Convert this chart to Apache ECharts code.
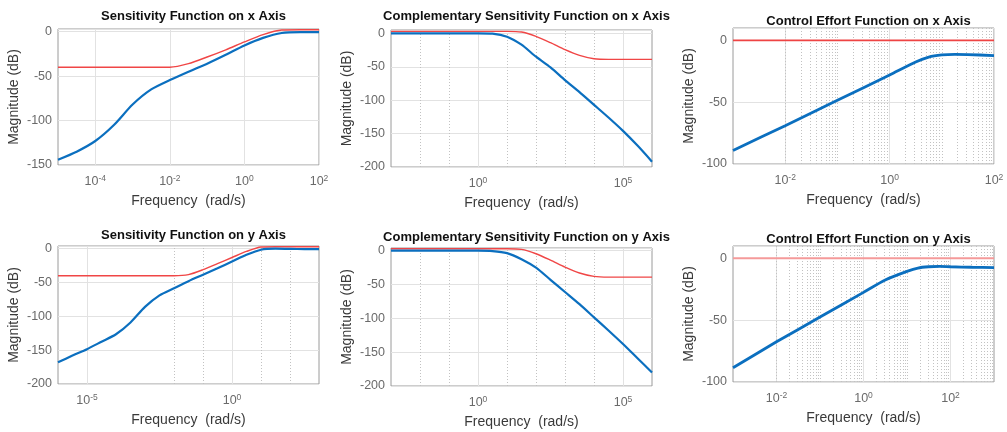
<!DOCTYPE html>
<html>
<head>
<meta charset="utf-8">
<title>Sensitivity functions</title>
<script src="https://cdn.jsdelivr.net/npm/echarts@6/dist/echarts.min.js"></script>
<style>
  html, body { margin: 0; padding: 0; background: #fff; }
  #chart { width: 1007px; height: 432px; }
</style>
</head>
<body>
<div id="chart"></div>
<script>
// --- data (rad/s, dB) ---
// sensitivity, x axis
const sxFreq = [1e-5, 3.16e-5, 1e-4, 3.16e-4, 1e-3, 3.16e-3, 1e-2, 3.16e-2, 1e-1, 3.16e-1, 1, 3.16, 10, 31.6, 100];
const sxBlue = [-144, -135, -123, -105, -82, -65, -54.5, -45, -36, -26, -15.5, -7, -1.5, -0.5, -0.5];
const sxRed  = [-40, -40, -40, -40, -40, -40, -40, -36, -28.5, -20.4, -11.5, -3.3, 1.8, 2.2, 2.2];

// complementary sensitivity, x axis
const txFreq = [1e-3, 1e-2, 1e-1, 1, 3.16, 10, 31.6, 100, 316, 1e3, 3.16e3, 1e4, 3.16e4, 1e5, 3.16e5, 1e6];
const txBlue = [0, 0, 0, 0, -0.5, -5, -17, -35, -51, -70, -88, -107, -126, -146, -168, -192];
const txRed  = [3, 3, 3, 3, 3, 3, 2, -4.5, -14, -24.5, -33, -38, -39, -39, -39, -39];

// control effort, x axis
const uxFreq = [1e-3, 1e-2, 1e-1, 1, 3.16, 5.62, 10, 17.8, 31.6, 100];
const uxBlue = [-89, -69, -48.5, -28, -17.5, -13.5, -11.8, -11.3, -11.5, -12.3];
const uxRed  = [0, 0, 0, 0, 0, 0, 0, 0, 0, 0];

// sensitivity, y axis
const syFreq = [1e-6, 3.16e-6, 1e-5, 3.16e-5, 1e-4, 3.16e-4, 1e-3, 3.16e-3, 1e-2, 3.16e-2, 1e-1, 3.16e-1, 1, 3.16, 10, 31.6, 100, 316, 1000];
const syBlue = [-168, -158, -148.5, -137.5, -126.5, -109, -86, -69, -58.5, -48, -38.5, -29, -19, -9, -1.5, 0, -0.3, -0.5, -0.5];
const syRed  = [-40, -40, -40, -40, -40, -40, -40, -40, -40, -38.3, -31, -22, -13, -4, 2.5, 3, 3, 3, 3];

// complementary sensitivity, y axis
const tyFreq = [1e-3, 1e-2, 1e-1, 1, 3.16, 10, 31.6, 100, 316, 1e3, 3.16e3, 1e4, 3.16e4, 1e5, 3.16e5, 1e6];
const tyBlue = [0, 0, 0, 0, -0.5, -3.5, -12.5, -25, -43, -61, -79, -98.5, -118, -138, -159, -180];
const tyRed  = [3, 3, 3, 3, 3, 3, 2, -4.5, -14, -24.3, -33, -38, -39, -39, -39, -39];

// control effort, y axis
const uyFreq = [1e-3, 1e-2, 1e-1, 1, 3.16, 10, 17.8, 31.6, 56.2, 100, 316, 1000];
const uyBlue = [-88.5, -67.5, -47.5, -27.5, -17.5, -10.5, -7.8, -6.8, -6.5, -6.8, -7.2, -7.5];
const uyRed  = [0, 0, 0, 0, 0, 0, 0, 0, 0, 0, 0, 0];

const titles = [
  'Sensitivity Function on x Axis',
  'Complementary Sensitivity Function on x Axis',
  'Control Effort Function on x Axis',
  'Sensitivity Function on y Axis',
  'Complementary Sensitivity Function on y Axis',
  'Control Effort Function on y Axis'
];

const FONT = '"Liberation Sans", Arial, Helvetica, sans-serif';
const TICK_COLOR = '#6a6a6a';
const GRID_COLOR = '#e2e2e2';
const MINOR_COLOR = '#c2c2c2';
const BLUE = '#0b6fbf';

const panels = [
  { freq: sxFreq, blue: sxBlue, red: sxRed, left: 58, top: 29, width: 261, height: 136,
    xLo: -5, xHi: 2, yMin: -150, yMax: 3, step: 2, minor: 'none', titleTop: 4.5,
    blueWidth: 2.2, redColor: '#f04646', redWidth: 1.4 },
  { freq: txFreq, blue: txBlue, red: txRed, left: 391, top: 30, width: 261, height: 137,
    xLo: -3, xHi: 6, yMin: -200, yMax: 5, step: 5, minor: 'decade', titleTop: 4.5,
    blueWidth: 2.2, redColor: '#f04646', redWidth: 1.4 },
  { freq: uxFreq, blue: uxBlue, red: uxRed, left: 733, top: 28, width: 261, height: 136,
    xLo: -3, xHi: 2, yMin: -100, yMax: 10, step: 2, minor: 'fine', titleTop: 10,
    blueWidth: 2.8, redColor: '#ee4444', redWidth: 1.6 },
  { freq: syFreq, blue: syBlue, red: syRed, left: 58, top: 246, width: 261, height: 138,
    xLo: -6, xHi: 3, yMin: -200, yMax: 4, step: 5, minor: 'decade', titleTop: 223.5,
    blueWidth: 2.2, redColor: '#f04646', redWidth: 1.4 },
  { freq: tyFreq, blue: tyBlue, red: tyRed, left: 391, top: 248, width: 261, height: 138,
    xLo: -3, xHi: 6, yMin: -200, yMax: 4, step: 5, minor: 'decade', titleTop: 225.5,
    blueWidth: 2.2, redColor: '#f04646', redWidth: 1.4 },
  { freq: uyFreq, blue: uyBlue, red: uyRed, left: 733, top: 246, width: 261, height: 136,
    xLo: -3, xHi: 3, yMin: -100, yMax: 10, step: 2, minor: 'fine', titleTop: 228,
    blueWidth: 2.8, redColor: '#f59a9a', redWidth: 2 }
];

function pairs(xs, ys) {
  return xs.map((x, i) => [x, ys[i]]);
}

// dotted MATLAB-style minor grid positions (decades that carry no label)
function minorLines(p) {
  const out = [];
  for (let e = p.xLo; e <= p.xHi; e++) {
    if (p.minor === 'decade' && e > p.xLo && e < p.xHi && e % p.step !== 0) {
      out.push(Math.pow(10, e));
    }
    if (p.minor === 'fine' && e < p.xHi) {
      for (let k = 1; k <= 9; k++) {
        if (k === 1 && (e === p.xLo || e % p.step === 0)) continue;
        out.push(k * Math.pow(10, e));
      }
    }
  }
  return out;
}

const option = { animation: false, title: [], grid: [], xAxis: [], yAxis: [], series: [] };

panels.forEach((p, i) => {
  option.title.push({
    text: titles[i],
    left: p.left + p.width / 2,
    top: p.titleTop,
    textAlign: 'center',
    textStyle: { fontFamily: FONT, fontSize: 13, fontWeight: 'bold', color: '#111' }
  });

  option.grid.push({
    left: p.left, top: p.top, width: p.width, height: p.height,
    show: true, borderColor: '#9a9a9a', borderWidth: 1, backgroundColor: '#fff'
  });

  // solid grid only on the labelled decades
  const majorColors = [];
  for (let e = p.xLo; e <= p.xHi; e++) {
    majorColors.push(e % p.step === 0 ? GRID_COLOR : 'rgba(0,0,0,0)');
  }

  option.xAxis.push({
    type: 'log', logBase: 10, gridIndex: i,
    min: Math.pow(10, p.xLo), max: Math.pow(10, p.xHi),
    name: 'Frequency  (rad/s)', nameLocation: 'middle', nameGap: 29,
    nameTextStyle: { fontFamily: FONT, fontSize: 14, color: '#3a3a3a' },
    axisLine: { show: false }, axisTick: { show: false },
    splitLine: { show: true, lineStyle: { color: majorColors, width: 1 } },
    axisLabel: {
      margin: 9, showMinLabel: true, showMaxLabel: true,
      formatter: v => {
        const e = Math.round(Math.log10(v));
        if (e % p.step !== 0) return '';
        return '{b|10}{s|' + e + '}';
      },
      rich: {
        b: { fontFamily: FONT, fontSize: 12.5, color: TICK_COLOR, lineHeight: 16 },
        s: { fontFamily: FONT, fontSize: 8.5, color: TICK_COLOR, lineHeight: 7, verticalAlign: 'top' }
      }
    }
  });

  option.yAxis.push({
    type: 'value', gridIndex: i, min: p.yMin, max: p.yMax, interval: 50,
    name: 'Magnitude (dB)', nameLocation: 'middle', nameGap: 37,
    nameTextStyle: { fontFamily: FONT, fontSize: 14, color: '#3a3a3a' },
    axisLine: { show: false }, axisTick: { show: false },
    splitLine: { show: true, lineStyle: { color: GRID_COLOR, width: 1 } },
    axisLabel: {
      margin: 6, fontFamily: FONT, fontSize: 12.5, color: TICK_COLOR,
      formatter: v => (v % 50 === 0 ? String(v) : '')
    }
  });

  option.series.push({
    type: 'line', xAxisIndex: i, yAxisIndex: i, data: [], silent: true,
    markLine: {
      silent: true, symbol: ['none', 'none'], z: 1,
      label: { show: false },
      lineStyle: { type: [1, 2], color: MINOR_COLOR, width: 1 },
      data: minorLines(p).map(v => ({ xAxis: v }))
    }
  });

  option.series.push({
    type: 'line', xAxisIndex: i, yAxisIndex: i, z: 3,
    data: pairs(p.freq, p.red), showSymbol: false, smooth: 0.25,
    lineStyle: { color: p.redColor, width: p.redWidth }
  });

  option.series.push({
    type: 'line', xAxisIndex: i, yAxisIndex: i, z: 4,
    data: pairs(p.freq, p.blue), showSymbol: false, smooth: 0.25,
    lineStyle: { color: BLUE, width: p.blueWidth }
  });
});

const chart = echarts.init(document.getElementById('chart'));
chart.setOption(option);
window.addEventListener('resize', () => chart.resize());
</script>
</body>
</html>
